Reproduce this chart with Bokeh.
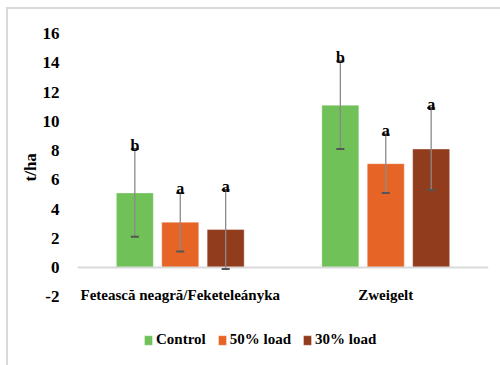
from bokeh.plotting import figure
from bokeh.models import (ColumnDataSource, Whisker, TeeHead, Legend, LegendItem,
                          FixedTicker, InlineStyleSheet, Title)
from bokeh.transform import dodge
from bokeh.core.properties import value
from bokeh.embed import file_html
from bokeh.resources import INLINE

# Yield (t/ha) per cultivar and crop-load treatment, with SD and significance letters
categories = ["Fetească neagră/Feketeleányka", "Zweigelt"]
series = ["Control", "50% load", "30% load"]
control = [5.1, 11.1]
load50 = [3.1, 7.1]
load30 = [2.6, 8.1]
control_sd = [3.0, 3.0]
load50_sd = [2.0, 2.0]
load30_sd = [2.7, 2.8]
control_sig = ["b", "b"]
load50_sig = ["a", "a"]
load30_sig = ["a", "a"]
y_ticks = [-2, 0, 2, 4, 6, 8, 10, 12, 14, 16]
y_tick_labels = ["-2", "0", "2", "4", "6", "8", "10", "12", "14", "16"]

colors = ["#71C159", "#E66526", "#923C1E"]
offsets = [-0.221, 0.0, 0.221]
FONT = "Liberation Serif"

# the frame extends below -2 to hold the category labels and the legend
p = figure(x_range=categories, y_range=(-5.81, 16), width=500, height=365,
           output_backend="svg", toolbar_location=None,
           min_border_left=77, min_border_right=12, min_border_top=33,
           min_border_bottom=13)
p.outline_line_color = None
p.xgrid.grid_line_color = None
p.ygrid.grid_line_color = None
p.background_fill_color = "white"
p.border_fill_color = "white"

# y axis: bold serif labels, no line or ticks
p.yaxis.ticker = FixedTicker(ticks=y_ticks)
p.yaxis.major_label_overrides = {t: s for t, s in zip(y_ticks, y_tick_labels)}
p.yaxis.axis_line_color = None
p.yaxis.major_tick_line_color = None
p.yaxis.minor_tick_line_color = None
p.yaxis.major_label_text_font = FONT
p.yaxis.major_label_text_font_style = "bold"
p.yaxis.major_label_text_font_size = "17px"
p.yaxis.major_label_text_color = "black"
p.yaxis.major_label_standoff = 12

# axis title, centred on the 16 .. -2 span rather than the whole frame
p.add_layout(Title(text="t/ha", align="left", offset=171, standoff=0,
                   text_font=FONT, text_font_style="bold", text_font_size="17px",
                   text_color="black"), "left")

# x axis sits on the zero line
p.xaxis.fixed_location = 0
p.xaxis.axis_line_color = "#D9D9D9"
p.xaxis.axis_line_width = 2
p.xaxis.major_tick_line_color = None
p.xaxis.minor_tick_line_color = None
p.xaxis.major_label_text_font = FONT
p.xaxis.major_label_text_font_style = "bold"
p.xaxis.major_label_text_font_size = "15px"
p.xaxis.major_label_text_color = "black"
p.xaxis.major_label_standoff = 13

means = [control, load50, load30]
sds = [control_sd, load50_sd, load30_sd]
sigs = [control_sig, load50_sig, load30_sig]

items = []
for name, vals, sd, sig, col, off in zip(series, means, sds, sigs, colors, offsets):
    src = ColumnDataSource(dict(
        cat=categories, val=vals,
        lo=[v - s for v, s in zip(vals, sd)],
        hi=[v + s for v, s in zip(vals, sd)],
        sig=sig))
    r = p.vbar(x=dodge("cat", off, range=p.x_range), top="val", width=0.18,
               source=src, fill_color=col, line_color="white", line_alpha=0.35,
               line_width=1)
    items.append(LegendItem(label=name, renderers=[r]))

    w = Whisker(base=dodge("cat", off, range=p.x_range), upper="hi", lower="lo",
                source=src, line_color="#8a8a8a", line_width=1.3,
                upper_head=TeeHead(size=8, line_color="#555555", line_width=2),
                lower_head=TeeHead(size=8, line_color="#555555", line_width=2),
                level="annotation")
    p.add_layout(w)

    t = p.text(x=dodge("cat", off, range=p.x_range), y="hi", text="sig", source=src,
               text_font=value(FONT), text_font_style="bold", text_font_size="16px",
               text_color="black", text_align="center", text_baseline="alphabetic",
               y_offset=-4)
    t.level = "overlay"

legend = Legend(items=items, orientation="horizontal", location=(66, 4),
                glyph_width=10, glyph_height=12, label_standoff=3, spacing=11,
                padding=0, margin=0, border_line_color=None,
                background_fill_alpha=0, label_height=12,
                label_text_font=FONT, label_text_font_style="bold",
                label_text_font_size="15px", label_text_color="black")
p.add_layout(legend)

# light chart-area frame along the top and left edges
p.stylesheets = [InlineStyleSheet(css=(
    ":host::after{content:'';position:absolute;left:6px;top:7px;right:0;bottom:0;"
    "border-top:2px solid #D9D9D9;border-left:2px solid #D9D9D9;"
    "pointer-events:none;}"))]

with open("out.html", "w", encoding="utf-8") as f:
    f.write(file_html(p, INLINE))
